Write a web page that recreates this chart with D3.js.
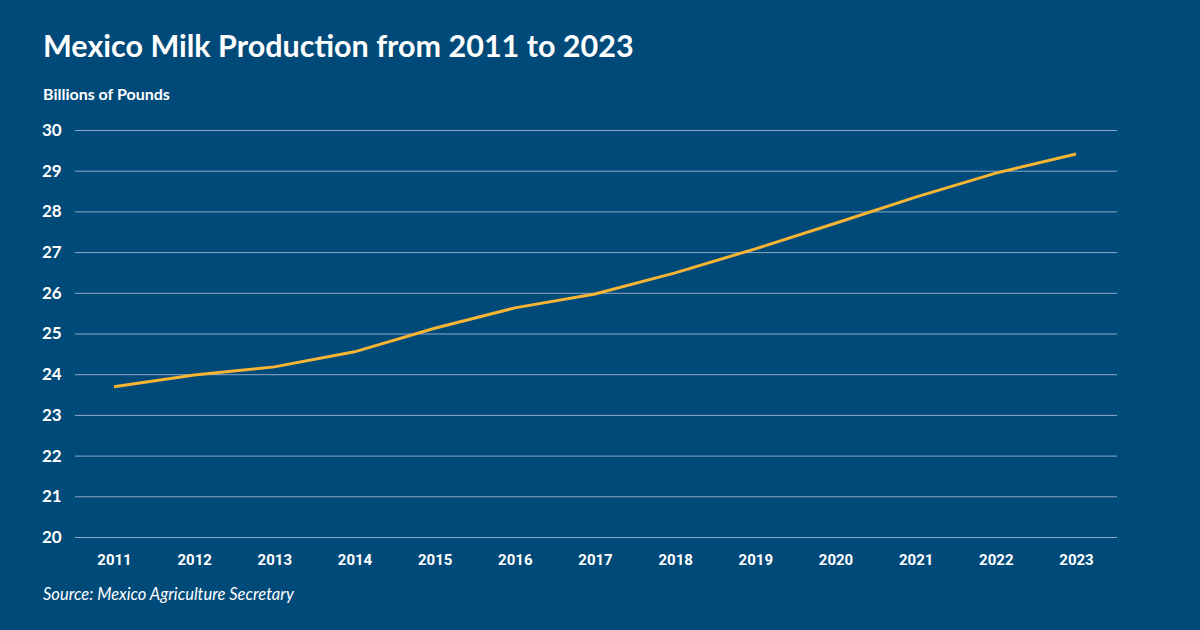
<!DOCTYPE html>
<html>
<head>
<meta charset="utf-8">
<script src="https://cdn.jsdelivr.net/npm/d3@7"></script>
<style>
  body { margin: 0; background: #004a7a; }
  svg { display: block; }
</style>
</head>
<body>
<script>
// data
var years = ["2011","2012","2013","2014","2015","2016","2017","2018","2019","2020","2021","2022","2023"];
var milk = [23.69, 23.98, 24.18, 24.55, 25.13, 25.63, 25.97, 26.49, 27.08, 27.71, 28.35, 28.94, 29.41];
var yTicks = [20, 21, 22, 23, 24, 25, 26, 27, 28, 29, 30];

var W = 1200, H = 630;
var margin = {top: 130, right: 83, bottom: 93, left: 75};
var width = W - margin.left - margin.right;
var height = H - margin.top - margin.bottom;

var svg = d3.select("body").append("svg")
    .attr("width", W)
    .attr("height", H)
    .style("background", "#004a7a");

//titles
svg.append("text")
    .attr("x", 43).attr("y", 57)
    .attr("font-family", "Lato, 'Open Sans', sans-serif")
    .attr("font-weight", "bold")
    .attr("font-size", "30.5px")
    .style("fill", "white")
    .text("Mexico Milk Production from 2011 to 2023");

svg.append("text")
    .attr("x", 43).attr("y", 100)
    .attr("font-family", "Lato, sans-serif")
    .attr("font-weight", "bold")
    .attr("font-size", "16px")
    .style("fill", "white")
    .text("Billions of Pounds");

svg.append("text")
    .attr("x", 43).attr("y", 600)
    .attr("font-family", "Lato, sans-serif")
    .attr("font-style", "italic")
    .attr("font-size", "16.5px")
    .style("fill", "white")
    .text("Source: Mexico Agriculture Secretary");

var g = svg.append("g")
    .attr("transform", "translate(" + margin.left + "," + margin.top + ")");

//scales
var x = d3.scalePoint().domain(years).range([39, 1001]);
var y = d3.scaleLinear().domain([20, 30]).range([height, 0]);

//grid
var leftAxis = d3.axisLeft(y).tickValues(yTicks).tickSize(-width).tickFormat(d3.format("d"));
var ga = g.append("g").call(leftAxis);
ga.select(".domain").remove();
ga.selectAll("line").attr("stroke", "#8fa9c4").attr("stroke-width", 1);
ga.selectAll("text")
    .attr("x", -33).attr("text-anchor", "start")
    .attr("font-family", "Lato, sans-serif")
    .attr("font-weight", "bold")
    .attr("font-size", "17px")
    .style("fill", "white");

//x axis
var bottomAxis = d3.axisBottom(x).tickSize(0);
var gx = g.append("g").attr("transform", "translate(0," + height + ")").call(bottomAxis);
gx.select(".domain").remove();
gx.selectAll("text")
    .attr("y", 17)
    .attr("font-family", "Roboto, sans-serif")
    .attr("font-weight", "bold")
    .attr("font-size", "15px")
    .style("fill", "white");

//line
var line = d3.line()
    .x(function(d, i) { return x(years[i]); })
    .y(function(d) { return y(d); });

g.append("path")
    .datum(milk)
    .attr("d", line)
    .attr("fill", "none")
    .attr("stroke", "#f8b533")
    .attr("stroke-width", 3);
</script>
</body>
</html>
